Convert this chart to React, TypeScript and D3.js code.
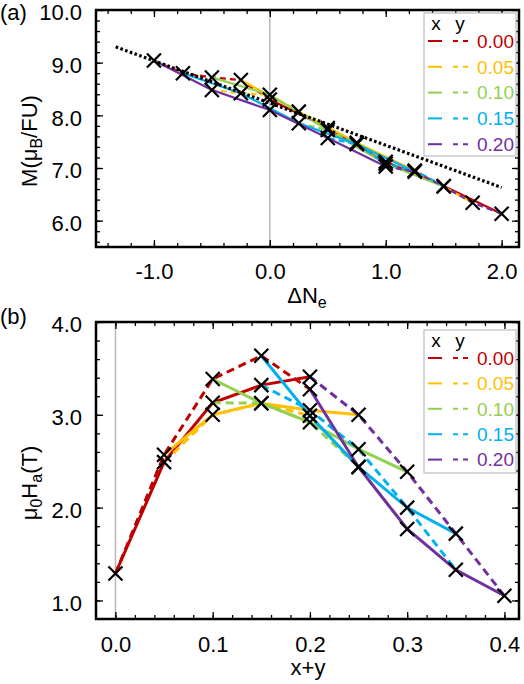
import * as React from 'react';
import { axisBottom, axisLeft, axisRight, axisTop, line, range, scaleLinear, select } from 'd3';

// substitution levels x and y (same set for both)
const conc = [0, 0.05, 0.1, 0.15, 0.2];
const concLabels = ["0.00", "0.05", "0.10", "0.15", "0.20"];
const colors = ["#c00000", "#ffc000", "#92d050", "#00b0f0", "#7030a0"];

// magnetic moment, rows = x, columns = y  (μB/FU)
const moment = [
    [8.30, 7.76, 7.12, 6.66, 6.13],
    [8.67, 8.07, 7.48, 6.95, 6.34],
    [8.72, 8.39, 7.72, 7.08, 6.65],
    [8.80, 8.42, 7.85, 7.45, 6.93],
    [9.04, 8.48, 8.10, 7.57, 7.03],
];

// anisotropy field, rows = x, columns = y  (T)
const aniso = [
    [1.29, 2.49, 3.13, 3.32, 3.41],
    [2.57, 3.00, 3.125, 3.05, 3.00],
    [3.386, 3.125, 2.92, 2.63, 2.386],
    [3.636, 2.99, 2.44, 2.00, 1.72],
    [3.275, 2.435, 1.77, 1.33, 1.05],
];

// straight reference line in the moment panel
const refLineDN = [-1.33, 2.0];
const refLineM = [9.30, 6.63];

// change in electron count for a composition
const deltaNe = (x: number, y: number) => 10 * y - 5 * x;

const FONT = "'Liberation Sans', Arial, sans-serif";
const LEFT = 96, RIGHT = 519;
const TICK_FS = 22;

type Pt = [number, number];

interface PanelOpts {
    top: number;
    bottom: number;
    xDomain: [number, number];
    yDomain: [number, number];
    xMajor: number[];
    xMinor: number[];
    yMajor: number[];
    yMinor: number[];
    xPad: number;
    lineWidth: number;
    dash: string;
    xOf: (x: number, y: number) => number;
    grid: number[][];
}

const drawPanel = (g: any, o: PanelOpts) => {
    const xs = scaleLinear().domain(o.xDomain).range([LEFT, RIGHT]);
    const ys = scaleLinear().domain(o.yDomain).range([o.bottom, o.top]);

    g.append("line")
        .attr("x1", xs(0)).attr("x2", xs(0))
        .attr("y1", o.top).attr("y2", o.bottom)
        .attr("stroke", "#b8b8b8").attr("stroke-width", 1.5);

    const axes: [any, string, boolean][] = [
        [axisBottom(xs), `translate(0,${o.bottom})`, true],
        [axisTop(xs), `translate(0,${o.top})`, false],
        [axisLeft(ys), `translate(${LEFT},0)`, true],
        [axisRight(ys), `translate(${RIGHT},0)`, false],
    ];
    axes.forEach(([gen, tr, labelled], i) => {
        const horiz = i < 2;
        const major = horiz ? o.xMajor : o.yMajor;
        const minor = horiz ? o.xMinor : o.yMinor;
        const fmt = (d: number) => d.toFixed(1);
        const ax = g.append("g").attr("transform", tr);
        ax.call(gen.tickValues(minor).tickSize(-4).tickFormat(() => ""));
        const axMaj = g.append("g").attr("transform", tr);
        axMaj.call(gen.tickValues(major).tickSize(-7).tickPadding(horiz ? o.xPad : 14)
            .tickFormat(labelled ? fmt : () => ""));
        [ax, axMaj].forEach((a) => {
            a.select(".domain").remove();
            a.selectAll("line").attr("stroke", "#000").attr("stroke-width", 1.3);
            a.selectAll("text").attr("font-family", FONT).attr("font-size", TICK_FS).attr("fill", "#000");
        });
        if (!horiz) axMaj.selectAll("text").attr("dy", "0.45em");
    });

    const path = line<Pt>().x((d) => xs(d[0])).y((d) => ys(d[1]));

    conc.forEach((c, i) => {
        // fixed x, y varying
        const solid: Pt[] = conc.map((yv, j) => [o.xOf(c, yv), o.grid[i][j]]);
        // fixed y, x varying
        const dashed: Pt[] = conc.map((xv, j) => [o.xOf(xv, c), o.grid[j][i]]);
        g.append("path").attr("d", path(solid)).attr("fill", "none")
            .attr("stroke", colors[i]).attr("stroke-width", o.lineWidth);
        g.append("path").attr("d", path(dashed)).attr("fill", "none")
            .attr("stroke", colors[i]).attr("stroke-width", o.lineWidth)
            .attr("stroke-dasharray", o.dash);
    });

    return { xs, ys, path };
};

const drawMarkers = (g: any, xs: any, ys: any, xOf: (x: number, y: number) => number, grid: number[][], h: number) => {
    const pts: Pt[] = [];
    conc.forEach((xv, i) => conc.forEach((yv, j) => pts.push([xOf(xv, yv), grid[i][j]])));
    g.selectAll(null).data(pts).join("path")
        .attr("d", (d: Pt) => {
            const cx = xs(d[0]), cy = ys(d[1]);
            return `M${cx - h},${cy - h}L${cx + h},${cy + h}M${cx - h},${cy + h}L${cx + h},${cy - h}`;
        })
        .attr("stroke", "#000").attr("stroke-width", 2.2).attr("fill", "none");
};

const drawLegend = (g: any, top: number, step: number) => {
    const lx = 424;
    g.append("rect").attr("x", lx).attr("y", top).attr("width", 92).attr("height", 143)
        .attr("fill", "#fff").attr("stroke", "#b0b0b0").attr("stroke-width", 1);
    g.append("text").attr("x", 436).attr("y", top + 10).attr("dy", "0.35em")
        .attr("text-anchor", "middle").attr("font-family", FONT).attr("font-size", 19).text("x");
    g.append("text").attr("x", 460).attr("y", top + 10).attr("dy", "0.35em")
        .attr("text-anchor", "middle").attr("font-family", FONT).attr("font-size", 19).text("y");
    concLabels.forEach((lab, i) => {
        const ry = top + 28 + step * i;
        g.append("line").attr("x1", 428).attr("x2", 442).attr("y1", ry).attr("y2", ry)
            .attr("stroke", colors[i]).attr("stroke-width", 2);
        g.append("line").attr("x1", 453).attr("x2", 468).attr("y1", ry).attr("y2", ry)
            .attr("stroke", colors[i]).attr("stroke-width", 2).attr("stroke-dasharray", "5 5");
        g.append("text").attr("x", 477).attr("y", ry).attr("dy", "0.36em")
            .attr("font-family", FONT).attr("font-size", 19).attr("fill", colors[i]).text(lab);
    });
};

const App = () => {
    const svgRef = React.useRef<SVGSVGElement>(null);

    React.useEffect(() => {
        const svg = select(svgRef.current);
        svg.selectAll("*").remove();

        // (a) moment vs electron count
        const ga = svg.append("g");
        const a = drawPanel(ga, {
            top: 10, bottom: 247,
            xDomain: [-1.5, 2.15], yDomain: [5.5, 10.0],
            xMajor: [-1, 0, 1, 2], xMinor: range(-1.4, 2.15, 0.2),
            yMajor: [6, 7, 8, 9, 10], yMinor: range(5.6, 10, 0.2),
            xPad: 16,
            lineWidth: 2.2, dash: "6 4",
            xOf: deltaNe, grid: moment,
        });
        ga.append("path")
            .attr("d", a.path(refLineDN.map((d, i) => [d, refLineM[i]] as Pt)))
            .attr("fill", "none").attr("stroke", "#000").attr("stroke-width", 3.2)
            .attr("stroke-dasharray", "2.6 2.4");
        drawMarkers(ga, a.xs, a.ys, deltaNe, moment, 7);
        drawLegend(ga, 13, 25.8);
        ga.append("rect").attr("x", LEFT).attr("y", 10).attr("width", RIGHT - LEFT).attr("height", 237)
            .attr("fill", "none").attr("stroke", "#000").attr("stroke-width", 2.5);

        // (b) anisotropy field vs total substitution
        const gb = svg.append("g");
        const sum = (x: number, y: number) => x + y;
        const b = drawPanel(gb, {
            top: 322, bottom: 619,
            xDomain: [-0.02, 0.415], yDomain: [0.8, 4.0],
            xMajor: [0, 0.1, 0.2, 0.3, 0.4], xMinor: range(0, 0.41, 0.02),
            yMajor: [1, 2, 3, 4], yMinor: range(1, 4.01, 0.2),
            xPad: 17,
            lineWidth: 3, dash: "8 5",
            xOf: sum, grid: aniso,
        });
        drawMarkers(gb, b.xs, b.ys, sum, aniso, 7);
        drawLegend(gb, 330, 25.4);
        gb.append("rect").attr("x", LEFT).attr("y", 322).attr("width", RIGHT - LEFT).attr("height", 297)
            .attr("fill", "none").attr("stroke", "#000").attr("stroke-width", 2.5);
    }, []);

    const txt = { fontFamily: FONT, fontSize: TICK_FS };

    return (
        <div style={{ position: 'absolute', left: 0, top: 0, width: 524, height: 684, background: '#fff' }}>
            <svg ref={svgRef} width={524} height={684} style={{ position: 'absolute', left: 0, top: 0 }} />
            <svg width={524} height={684} style={{ position: 'absolute', left: 0, top: 0, pointerEvents: 'none' }}>
                <text x={0} y={20} style={txt}>(a)</text>
                <text x={0} y={324} style={txt}>(b)</text>
                <text transform="translate(37,141) rotate(-90)" textAnchor="middle" style={txt}>
                    M(μ<tspan fontSize={16} dy={5}>B</tspan><tspan dy={-5}>/FU)</tspan>
                </text>
                <text transform="translate(37,483) rotate(-90)" textAnchor="middle" style={txt}>
                    μ<tspan fontSize={16} dy={5}>0</tspan><tspan dy={-5}>H</tspan>
                    <tspan fontSize={16} dy={5}>a</tspan><tspan dy={-5}>(T)</tspan>
                </text>
                <text x={307} y={303} textAnchor="middle" style={txt}>
                    ΔN<tspan fontSize={16} dy={5}>e</tspan>
                </text>
                <text x={308} y={675} textAnchor="middle" style={txt}>x+y</text>
            </svg>
        </div>
    );
};

export default App;
